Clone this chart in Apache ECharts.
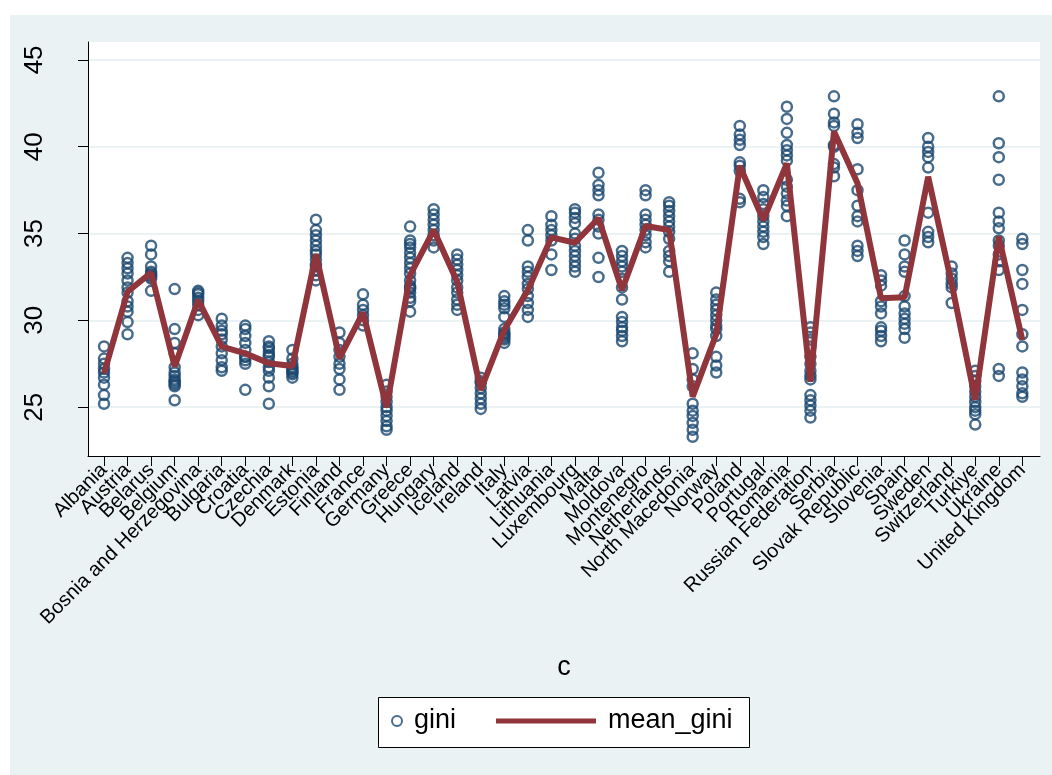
<!DOCTYPE html>
<html>
<head>
<meta charset="utf-8">
<script src="https://cdn.jsdelivr.net/npm/echarts@6/dist/echarts.min.js"></script>
<style>
  html, body { margin: 0; padding: 0; background: #ffffff; }
  #frame { position: absolute; left: 10px; top: 15px; width: 1042px; height: 760px; background: #EAF2F3; }
  #chart { position: absolute; left: 0; top: 0; width: 1052px; height: 775px; }
</style>
</head>
<body>
<div id="frame"></div>
<div id="chart"></div>
<script>
// Countries along the x axis (index 0..39)
const countries = [
  'Albania', 'Austria', 'Belarus', 'Belgium', 'Bosnia and Herzegovina', 'Bulgaria',
  'Croatia', 'Czechia', 'Denmark', 'Estonia', 'Finland', 'France', 'Germany',
  'Greece', 'Hungary', 'Iceland', 'Ireland', 'Italy', 'Latvia', 'Lithuania',
  'Luxembourg', 'Malta', 'Moldova', 'Montenegro', 'Netherlands', 'North Macedonia',
  'Norway', 'Poland', 'Portugal', 'Romania', 'Russian Federation', 'Serbia',
  'Slovak Republic', 'Slovenia', 'Spain', 'Sweden', 'Switzerland', 'Turkiye',
  'Ukraine', 'United Kingdom'
];

// Yearly Gini observations, one list per country (same order as countries)
const giniObs = [
  [28.5, 27.8, 27.5, 27.2, 27.0, 26.7, 26.3, 25.7, 25.2],
  [33.6, 33.3, 33.0, 32.7, 32.3, 31.9, 31.6, 31.1, 30.8, 30.5, 29.9, 29.2],
  [34.3, 33.8, 33.1, 32.8, 32.7, 32.6, 32.5, 32.4, 31.7],
  [31.8, 29.5, 28.7, 28.1, 27.3, 27.0, 26.8, 26.6, 26.5, 26.4, 26.3, 26.2, 25.4],
  [31.7, 31.6, 31.5, 31.3, 31.1, 30.9, 30.6, 30.3],
  [30.1, 29.7, 29.4, 29.2, 28.9, 28.5, 28.1, 27.7, 27.3, 27.1],
  [29.7, 29.5, 29.1, 28.7, 28.3, 27.9, 27.9, 27.7, 27.5, 26.0],
  [28.8, 28.5, 28.4, 28.2, 28.0, 27.9, 27.6, 27.3, 27.1, 26.7, 26.2, 25.2],
  [28.3, 27.8, 27.5, 27.3, 27.2, 27.1, 27.0, 26.9, 26.7],
  [35.8, 35.2, 34.9, 34.6, 34.3, 34.0, 33.8, 33.5, 33.2, 33.1, 32.9, 32.6, 32.3],
  [29.3, 28.7, 28.3, 27.9, 27.5, 27.2, 26.6, 26.0],
  [31.5, 30.9, 30.6, 30.3, 30.0, 29.7],
  [26.3, 25.9, 25.6, 25.3, 25.0, 24.8, 24.5, 24.2, 23.9, 23.7],
  [35.4, 34.6, 34.4, 34.2, 33.9, 33.6, 33.3, 33.0, 32.7, 32.3, 32.0, 31.9, 31.8, 31.6, 31.3, 31.1, 30.5],
  [36.4, 36.1, 35.8, 35.5, 35.2, 34.9, 34.6, 34.2],
  [33.8, 33.5, 33.2, 32.9, 32.6, 32.3, 31.9, 31.6, 31.2, 30.9, 30.6],
  [26.7, 26.5, 26.4, 26.1, 25.8, 25.5, 25.2, 24.9],
  [31.4, 31.1, 30.9, 30.7, 30.2, 29.5, 29.3, 29.2, 29.1, 29.0, 28.9, 28.7],
  [35.2, 34.6, 33.1, 32.8, 32.5, 32.1, 31.8, 31.4, 31.0, 30.6, 30.2],
  [36.0, 35.5, 35.2, 34.9, 34.6, 33.8, 32.9],
  [36.4, 36.2, 35.9, 35.6, 35.0, 34.7, 34.3, 34.0, 33.7, 33.4, 33.1, 32.8],
  [38.5, 37.8, 37.5, 37.2, 36.1, 35.8, 35.4, 35.0, 33.6, 32.5],
  [34.0, 33.7, 33.4, 33.1, 32.8, 32.4, 31.9, 31.2, 30.2, 29.9, 29.6, 29.4, 29.1, 28.8],
  [37.5, 37.2, 36.1, 35.8, 35.5, 35.2, 34.9, 34.5, 34.2],
  [36.8, 36.6, 36.3, 36.0, 35.7, 35.4, 35.1, 34.7, 34.0, 33.7, 33.4, 32.8],
  [28.1, 27.2, 26.6, 26.2, 25.2, 24.8, 24.5, 24.1, 23.7, 23.3],
  [31.6, 31.2, 30.9, 30.6, 30.3, 30.0, 29.7, 29.5, 29.1, 27.9, 27.4, 27.0],
  [41.2, 40.7, 40.4, 40.1, 39.1, 38.9, 38.6, 37.0, 36.8],
  [37.5, 37.1, 36.7, 36.4, 36.0, 35.7, 35.4, 35.1, 34.8, 34.4],
  [42.3, 41.6, 40.8, 40.1, 39.8, 39.5, 39.2, 38.1, 37.7, 37.3, 36.9, 36.6, 36.0],
  [29.6, 29.3, 28.9, 28.5, 27.9, 27.5, 27.1, 26.8, 26.6, 25.7, 25.4, 25.1, 24.8, 24.4],
  [42.9, 41.9, 41.4, 41.2, 40.1, 40.0, 39.0, 38.8, 38.3],
  [41.3, 40.8, 40.5, 38.7, 37.5, 36.6, 36.0, 35.7, 34.3, 34.0, 33.7],
  [32.6, 32.3, 32.0, 31.1, 30.8, 30.4, 29.6, 29.4, 29.1, 28.8],
  [34.6, 33.8, 33.1, 32.8, 31.4, 30.8, 30.4, 30.1, 29.8, 29.5, 29.0],
  [40.5, 40.0, 39.7, 39.4, 38.8, 36.2, 35.1, 34.8, 34.5],
  [33.1, 32.7, 32.4, 32.1, 31.9, 31.0],
  [27.1, 26.8, 26.5, 26.2, 25.9, 25.6, 25.3, 25.0, 24.8, 24.6, 24.0],
  [42.9, 40.2, 39.4, 38.1, 36.2, 35.7, 35.3, 34.6, 34.3, 33.8, 33.4, 32.9, 27.2, 26.8],
  [34.7, 34.4, 32.9, 32.1, 30.6, 29.2, 28.5, 27.0, 26.6, 26.2, 25.8, 25.6]
];

// Country mean of the Gini index
const meanGini = [
  26.95, 31.65, 32.75, 27.34, 31.17, 28.49, 28.10, 27.53, 27.37, 33.80,
  27.82, 30.45, 25.00, 32.61, 35.20, 32.23, 25.99, 29.45, 31.75, 34.78,
  34.47, 35.88, 31.75, 35.43, 35.20, 25.61, 29.20, 38.89, 35.78, 39.04,
  26.47, 40.87, 37.90, 31.27, 31.33, 38.27, 32.10, 25.42, 34.82, 28.87
];

// Y axis tick values
const yTicks = [25, 30, 35, 40, 45];

const scatterData = [];
giniObs.forEach((vals, i) => vals.forEach(v => scatterData.push([i, v])));
const lineData = meanGini.map((v, i) => [i, v]);

const NAVY = '#1A476F';
const MAROON = '#90353B';
const FONT = '"Liberation Sans", Arial, Helvetica, sans-serif';

// Plot area: x axis spans x = -0.68 .. 39.75 (country index units)
const X_MIN = -0.68, X_MAX = 39.75;
const PLOT_LEFT = 88, PLOT_RIGHT = 12, PLOT_TOP = 42, PLOT_BOTTOM = 319;
const pxPerUnit = (1052 - PLOT_LEFT - PLOT_RIGHT) / (X_MAX - X_MIN);
// Label grid: a category band per country, centred on each integer index
const labelLeft = PLOT_LEFT + (-0.5 - X_MIN) * pxPerUnit;
const labelRight = PLOT_RIGHT + (X_MAX - (countries.length - 0.5)) * pxPerUnit;

const chart = echarts.init(document.getElementById('chart'), null, { renderer: 'canvas' });
chart.setOption({
  backgroundColor: 'transparent',
  animation: false,
  textStyle: { fontFamily: FONT, color: '#000' },
  grid: [
    {
      left: PLOT_LEFT, right: PLOT_RIGHT, top: PLOT_TOP, bottom: PLOT_BOTTOM,
      show: true, backgroundColor: '#ffffff', borderWidth: 0
    },
    {
      left: labelLeft, right: labelRight, top: PLOT_TOP, bottom: PLOT_BOTTOM,
      show: false
    }
  ],
  xAxis: [
    {
      type: 'value',
      gridIndex: 0,
      min: X_MIN, max: X_MAX,
      name: 'c',
      nameLocation: 'middle',
      nameGap: 212,
      nameTextStyle: { fontSize: 27, color: '#000', fontFamily: FONT, verticalAlign: 'middle' },
      axisLine: { show: true, onZero: false, lineStyle: { color: '#000', width: 1 } },
      axisTick: { show: false },
      axisLabel: { show: false },
      splitLine: { show: false }
    },
    {
      type: 'category',
      gridIndex: 1,
      data: countries,
      boundaryGap: true,
      axisLine: { show: false },
      axisTick: { show: true, alignWithLabel: true, interval: 0, length: 10, lineStyle: { color: '#000', width: 1 } },
      axisLabel: {
        interval: 0,
        rotate: 45,
        margin: 11,
        fontSize: 20,
        color: '#000',
        fontFamily: FONT
      },
      splitLine: { show: false }
    }
  ],
  yAxis: [
    {
      type: 'value',
      gridIndex: 0,
      min: 22.19, max: 46.03,
      axisLine: { show: true, onZero: false, lineStyle: { color: '#000', width: 1 } },
      axisTick: { show: true, length: 10, customValues: yTicks, lineStyle: { color: '#000', width: 1 } },
      axisLabel: {
        customValues: yTicks,
        rotate: 90,
        margin: 40,
        fontSize: 26,
        color: '#000',
        fontFamily: FONT
      },
      splitLine: { show: true, lineStyle: { color: '#EAF2F3', width: 2 } }
    },
    {
      type: 'value',
      gridIndex: 1,
      min: 22.19, max: 46.03,
      show: false
    }
  ],
  legend: [
    {
      data: [{ name: 'gini', icon: 'circle', itemStyle: { color: 'transparent', borderColor: NAVY, borderWidth: 2 } }],
      left: 391, top: 706,
      padding: 0,
      itemWidth: 10, itemHeight: 10,
      itemGap: 0,
      textStyle: { fontSize: 27, color: '#000', fontFamily: FONT, padding: [0, 0, 0, 7], lineHeight: 30 },
      selectedMode: false
    },
    {
      data: [{ name: 'mean_gini', icon: 'rect', itemStyle: { color: MAROON } }],
      left: 496, top: 706,
      padding: 0,
      itemWidth: 100, itemHeight: 5,
      itemGap: 0,
      textStyle: { fontSize: 27, color: '#000', fontFamily: FONT, padding: [0, 0, 0, 7], lineHeight: 30 },
      selectedMode: false
    }
  ],
  graphic: [
    {
      type: 'rect',
      left: 378, top: 697,
      shape: { width: 371, height: 50 },
      style: { fill: '#ffffff', stroke: '#000', lineWidth: 1 },
      z: -1
    }
  ],
  series: [
    {
      name: 'gini',
      type: 'scatter',
      xAxisIndex: 0, yAxisIndex: 0,
      data: scatterData,
      symbol: 'circle',
      symbolSize: 10,
      itemStyle: { color: 'transparent', borderColor: NAVY, borderWidth: 2.5 },
      z: 2
    },
    {
      name: 'mean_gini',
      type: 'line',
      xAxisIndex: 0, yAxisIndex: 0,
      data: lineData,
      showSymbol: false,
      symbol: 'none',
      lineStyle: { color: MAROON, width: 6 },
      itemStyle: { color: MAROON },
      z: 3
    }
  ]
});
</script>
</body>
</html>
